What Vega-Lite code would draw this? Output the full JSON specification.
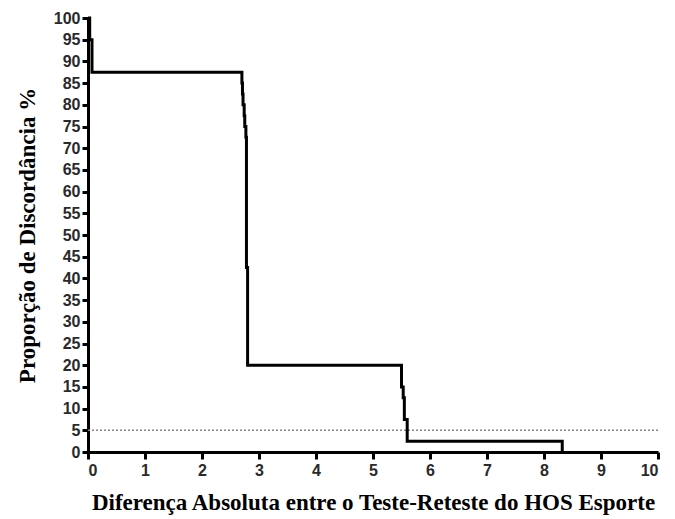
{
  "$schema": "https://vega.github.io/schema/vega-lite/v6.json",
  "autosize": "none",
  "width": 570,
  "height": 434,
  "padding": {"left": 88, "top": 18, "right": 17, "bottom": 67},
  "background": "white",
  "config": {
    "view": {"stroke": null},
    "axis": {
      "grid": false, "labelOverlap": false,
      "domainColor": "black", "domainWidth": 3,
      "tickColor": "black", "tickWidth": 3,
      "labelFont": "Liberation Sans", "labelFontSize": 16, "labelFontWeight": "bold",
      "labelColor": "#2a2a2a",
      "titleFont": "Liberation Serif", "titleFontSize": 23, "titleFontWeight": "bold",
      "titleColor": "black"
    }
  },
  "datasets": {
    "curve": [
      {"diff": 0, "pct": 100},
      {"diff": 0.03, "pct": 95},
      {"diff": 0.07, "pct": 87.5},
      {"diff": 2.70, "pct": 85},
      {"diff": 2.71, "pct": 82.5},
      {"diff": 2.72, "pct": 80},
      {"diff": 2.74, "pct": 77.5},
      {"diff": 2.75, "pct": 75},
      {"diff": 2.77, "pct": 72.5},
      {"diff": 2.78, "pct": 42.5},
      {"diff": 2.80, "pct": 20},
      {"diff": 5.50, "pct": 15},
      {"diff": 5.53, "pct": 12.5},
      {"diff": 5.55, "pct": 7.5},
      {"diff": 5.60, "pct": 2.5},
      {"diff": 8.32, "pct": 0}
    ],
    "limit": [{"pct": 5}]
  },
  "encoding": {
    "y": {
      "field": "pct", "type": "quantitative",
      "scale": {"domain": [0, 100], "nice": false},
      "axis": {
        "title": "Proporção de Discordância %",
        "values": [0, 5, 10, 15, 20, 25, 30, 35, 40, 45, 50, 55, 60, 65, 70, 75, 80, 85, 90, 95, 100],
        "tickSize": 6, "labelPadding": 2, "titlePadding": 14
      }
    }
  },
  "layer": [
    {
      "data": {"name": "limit"},
      "mark": {"type": "rule", "color": "#888888", "strokeWidth": 1.5, "strokeDash": [2, 2]},
      "encoding": {}
    },
    {
      "data": {"name": "curve"},
      "mark": {"type": "line", "interpolate": "step-after", "color": "black", "strokeWidth": 3, "clip": false},
      "encoding": {
        "x": {
          "field": "diff", "type": "quantitative",
          "scale": {"domain": [0, 10], "nice": false},
          "axis": {
            "title": "Diferença Absoluta entre o Teste-Reteste do HOS Esporte",
            "values": [0, 1, 2, 3, 4, 5, 6, 7, 8, 9, 10],
            "tickSize": 7, "labelPadding": 3, "titlePadding": 13
          }
        }
      }
    }
  ]
}
